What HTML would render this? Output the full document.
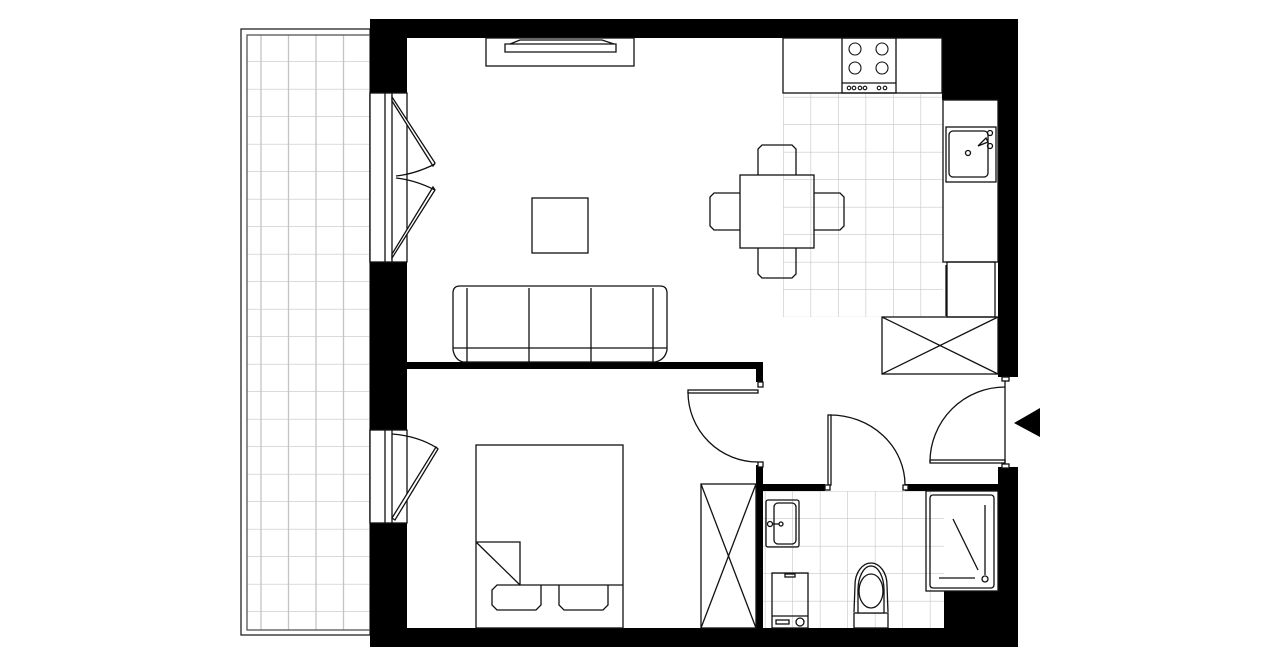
<!DOCTYPE html>
<html><head><meta charset="utf-8"><style>html,body{margin:0;padding:0;background:#fff}svg{display:block}</style></head>
<body>
<svg width="1280" height="667" viewBox="0 0 1280 667" xmlns="http://www.w3.org/2000/svg">
<defs>
<pattern id="tb" x="247" y="7" width="27.5" height="27.5" patternUnits="userSpaceOnUse">
<path d="M14 0V27.5M0 27.5H27.5" stroke="#c4c4c4" stroke-width="1.3" fill="none"/>
</pattern>
<pattern id="tk" x="783" y="97.5" width="27.5" height="27.5" patternUnits="userSpaceOnUse">
<path d="M0 0V27.5M0 27.5H27.5" stroke="#c8c8c8" stroke-width="1.3" fill="none"/>
</pattern>
<pattern id="tw" x="765.5" y="491.5" width="27.5" height="27.5" patternUnits="userSpaceOnUse">
<path d="M27.5 0V27.5M0 27.5H27.5" stroke="#c8c8c8" stroke-width="1.3" fill="none"/>
</pattern>
</defs>
<g fill="none" stroke="#222" stroke-width="1.3">
<!-- balcony -->
<rect x="241" y="29" width="129" height="606"/>
<rect x="247" y="35" width="123" height="595" fill="url(#tb)" stroke="#555"/>
<!-- kitchen tiles -->
<rect x="783" y="94" width="160" height="223" fill="url(#tk)" stroke="none"/>
<!-- bath tiles -->
<rect x="763" y="491" width="181" height="137" fill="url(#tw)" stroke="none"/>
</g>
<!-- walls -->
<g fill="#000">
<rect x="370" y="19" width="648" height="19"/>
<rect x="370" y="19" width="37" height="74"/>
<rect x="370" y="262" width="37" height="168"/>
<rect x="370" y="523" width="37" height="124"/>
<rect x="370" y="628" width="648" height="19"/>
<rect x="942" y="19" width="76" height="81"/>
<rect x="998" y="19" width="20" height="358"/>
<rect x="998" y="467" width="20" height="180"/>
<rect x="944" y="591" width="74" height="56"/>
<rect x="407" y="362" width="356" height="7"/>
<rect x="756" y="362" width="7" height="20"/>
<rect x="756" y="465" width="7" height="163"/>
<rect x="756" y="484" width="69" height="7"/>
<rect x="905" y="484" width="93" height="7"/>
<polygon points="1014,423 1040,408 1040,437"/>
</g>
<g fill="none" stroke="#111" stroke-width="1.3">
<!-- windows -->
<rect x="370" y="93" width="37" height="169" fill="#fff"/>
<line x1="385" y1="93" x2="385" y2="262"/><line x1="392" y1="93" x2="392" y2="262"/>
<polygon points="392,97 435,163 433,166 392,101" fill="#fff"/>
<path d="M435,164 Q415,174 396,176"/>
<polygon points="392,258 435,190 433,187 392,254" fill="#fff"/>
<path d="M435,190 Q415,180 396,178"/>
<rect x="370" y="430" width="37" height="93" fill="#fff"/>
<line x1="385" y1="430" x2="385" y2="523"/><line x1="392" y1="430" x2="392" y2="523"/>
<polygon points="392,518 436,447 438,449 395,520" fill="#fff"/>
<path d="M437,448 Q418,436 392,434"/>
<!-- TV -->
<rect x="486" y="38" width="148" height="28"/>
<path d="M505,44 H616 V52 H505 Z M510,44 L520,40 H602 L614,44"/>
<!-- coffee table -->
<rect x="532" y="198" width="56" height="55"/>
<!-- sofa -->
<path d="M460,286 H660 Q667,286 667,293 V350 Q665,360 655,362 H463 Q455,360 453,350 V293 Q453,286 460,286 Z"/>
<line x1="467" y1="288" x2="467" y2="362"/><line x1="653" y1="288" x2="653" y2="362"/>
<line x1="529" y1="288" x2="529" y2="362"/><line x1="591" y1="288" x2="591" y2="362"/>
<line x1="453" y1="348" x2="667" y2="348"/>
<!-- dining -->
<rect x="740" y="175" width="74" height="73"/>
<path d="M758,175 V149 L762,145 H792 L796,149 V175"/>
<path d="M758,248 V274 L762,278 H792 L796,274 V248"/>
<path d="M740,193 H714 L710,197 V226 L714,230 H740"/>
<path d="M814,193 H840 L844,197 V226 L840,230 H814"/>
<!-- kitchen -->
<rect x="783" y="38" width="159" height="55"/>
<rect x="842" y="38" width="54" height="55"/>
<line x1="842" y1="83" x2="896" y2="83"/>
<g stroke-width="1.1">
<circle cx="855" cy="49" r="6"/><circle cx="882" cy="49" r="6"/><circle cx="855" cy="68" r="6"/><circle cx="882" cy="68" r="6"/>
<circle cx="849" cy="88" r="1.8"/><circle cx="854" cy="88" r="1.8"/><circle cx="860" cy="88" r="1.8"/><circle cx="865" cy="88" r="1.8"/><circle cx="879" cy="88" r="1.8"/><circle cx="885" cy="88" r="1.8"/>
</g>
<rect x="943" y="100" width="55" height="162"/>
<rect x="946" y="127" width="50" height="55"/>
<rect x="949" y="131" width="39" height="46" rx="4"/>
<circle cx="968" cy="153" r="2.5"/><circle cx="990" cy="133" r="2.5"/><circle cx="990" cy="146" r="2.5"/>
<path d="M978,146 L986,138 L988,142 Z"/>
<rect x="947" y="262" width="48" height="55"/>
<line x1="946" y1="265" x2="946" y2="316"/>
<rect x="882" y="317" width="116" height="57"/>
<line x1="882" y1="317" x2="998" y2="374"/><line x1="882" y1="374" x2="998" y2="317"/>
<!-- doors -->
<rect x="688" y="390" width="70" height="3"/>
<path d="M688,392 A70,70 0 0 0 758,462"/>
<rect x="828" y="415" width="3" height="70"/>
<path d="M830,415 A75,70 0 0 1 905,485"/>
<rect x="930" y="460" width="75" height="3"/>
<path d="M930,462 A75,75 0 0 1 1005,387"/>
<line x1="1005" y1="380" x2="1005" y2="467"/>
<rect x="1002" y="377" width="7" height="4" fill="#fff"/>
<rect x="1002" y="464" width="7" height="4" fill="#fff"/>
<rect x="758" y="382" width="5" height="5" fill="#fff"/>
<rect x="758" y="462" width="5" height="5" fill="#fff"/>
<rect x="825" y="485" width="5" height="5" fill="#fff"/>
<rect x="903" y="485" width="5" height="5" fill="#fff"/>
<!-- wardrobe -->
<rect x="701" y="484" width="55" height="144"/>
<line x1="701" y1="484" x2="756" y2="628"/><line x1="756" y1="484" x2="701" y2="628"/>
<!-- bed -->
<rect x="476" y="445" width="147" height="183"/>
<path d="M476,542 H520 V585 H623 M476,542 L520,585"/>
<path d="M520,585 H497 L492,590 V605 L497,610 H536 L541,605 V585"/>
<path d="M559,585 V605 L564,610 H603 L608,605 V585"/>
<!-- bathroom -->
<rect x="766" y="500" width="33" height="47" rx="2"/>
<rect x="774" y="503" width="22" height="41" rx="4"/>
<circle cx="770" cy="524" r="2.5"/><line x1="772" y1="524" x2="779" y2="524"/><circle cx="781" cy="524" r="2"/>
<rect x="772" y="573" width="36" height="55"/>
<line x1="772" y1="616" x2="808" y2="616"/>
<rect x="785" y="574" width="10" height="3"/>
<rect x="776" y="620" width="13" height="4"/><circle cx="800" cy="622" r="4"/>
<rect x="854" y="613" width="34" height="15"/>
<path d="M858,613 V590 A13,24 0 0 1 884,590 V613 Z" fill="#fff"/>
<path d="M854,612 L855,585 A16,22 0 0 1 887,585 L888,612"/>
<ellipse cx="871" cy="591" rx="12" ry="17"/>
<rect x="926" y="491" width="72" height="100"/>
<rect x="930" y="495" width="64" height="93" rx="3"/>
<line x1="985" y1="505" x2="985" y2="575"/>
<line x1="953" y1="519" x2="978" y2="570"/>
<line x1="939" y1="578" x2="975" y2="578"/>
<circle cx="985" cy="579" r="3"/>
</g>
</svg>
</body></html>
